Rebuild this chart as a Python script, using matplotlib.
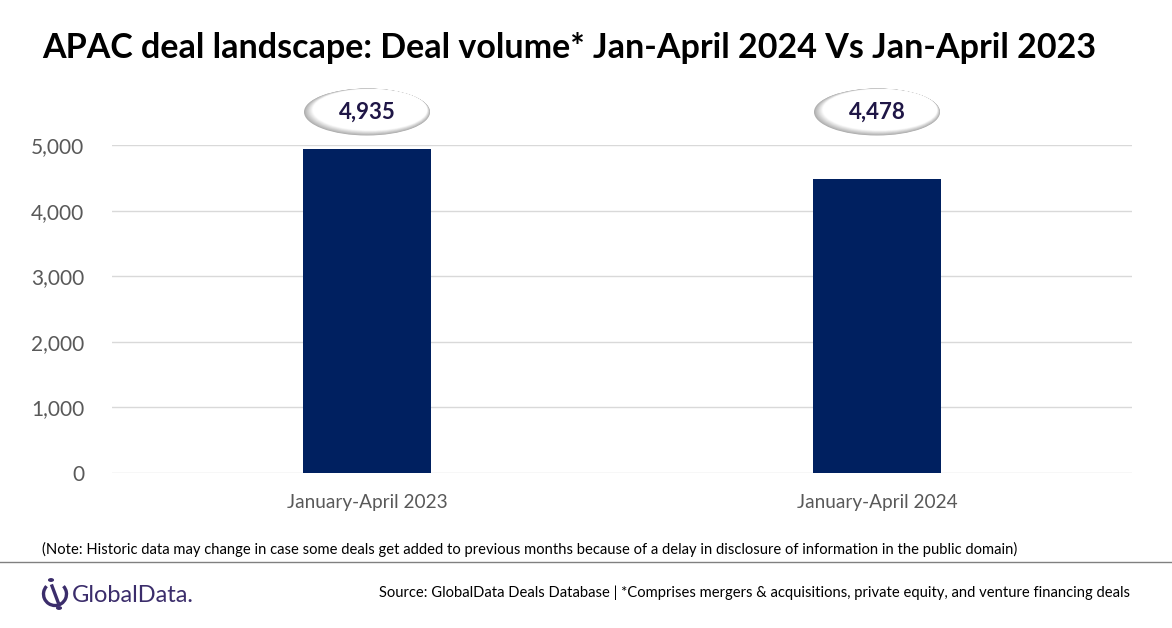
import numpy as np
from matplotlib import pyplot as plt
from matplotlib.patches import Ellipse, Circle, Arc
from matplotlib.ticker import FuncFormatter

categories = ["January-April 2023", "January-April 2024"]
deal_volume = [4935, 4478]
yticks = [0, 1000, 2000, 3000, 4000, 5000]

title = "APAC deal landscape: Deal volume* Jan-April 2024 Vs Jan-April 2023"
note = ("(Note: Historic data may change in case some deals get added to previous months "
        "because of a delay in disclosure of information in the public domain)")
source = ("Source: GlobalData Deals Database | *Comprises mergers & acquisitions, "
          "private equity, and venture financing deals")

W, H = 1172, 628
plt.rcParams['font.family'] = ['Lato', 'DejaVu Sans']

fig = plt.figure(figsize=(W / 100, H / 100), dpi=100)
ax = fig.add_axes([112 / W, (H - 473) / H, 1020 / W, 328 / H])

x = np.arange(len(categories))
ax.bar(x, deal_volume, width=0.25, color="#002060", zorder=3)
ax.set_xlim(-0.5, len(categories) - 0.5)
ax.set_ylim(0, 5000)
ax.set_yticks(yticks)
ax.yaxis.set_major_formatter(FuncFormatter(lambda v, p: f"{int(v):,}"))
ax.set_xticks(x)
ax.set_xticklabels(categories)
ax.grid(axis="y", color="#D9D9D9", linewidth=1, zorder=0)
for s in ax.spines.values():
    s.set_visible(False)
ax.tick_params(axis="both", length=0, colors="#595959", labelsize=15)
ax.tick_params(axis="y", pad=20)
ax.tick_params(axis="x", pad=15, labelsize=13.7)

# gradient ellipse labels above bars
for xi, v in zip(x, deal_volume):
    cx = ax.transData.transform((xi, 0))[0]
    cy = 112
    steps = 16
    for k in range(steps):
        t = k / (steps - 1)
        shade = 0.68 + 0.32 * min(1, t * 1.4)
        w = 126 - 16 * t
        h = 47 - 8 * t
        e = Ellipse((cx / W + 4 * t / W, 1 - (cy - 3 * t) / H), w / W, h / H,
                    transform=fig.transFigure, facecolor=(shade, shade, shade),
                    edgecolor="none", zorder=5)
        fig.add_artist(e)
    fig.text(cx / W, 1 - cy / H, f"{v:,}", ha="center", va="center",
             fontsize=16, fontweight="bold", color="#1F1646", zorder=6)

fig.text(42 / W, 1 - 48 / H, title, ha="left", va="center",
         fontsize=24.5, fontweight="bold", color="#000000")

fig.text(42 / W, 1 - 549 / H, note, ha="left", va="center",
         fontsize=10.6, color="#000000")
fig.add_artist(plt.Line2D([0, 1], [1 - 562 / H, 1 - 562 / H],
                          transform=fig.transFigure, color="#808080", linewidth=1))
fig.text(1130 / W, 1 - 593 / H, source, ha="right", va="center",
         fontsize=10.6, color="#000000")

# GlobalData logo
logo_c = "#3B2D6B"
lx, ly = 55, 594
fig.add_artist(Arc((lx / W, 1 - ly / H), 23 / W, 23 / H, theta1=120, theta2=60,
                   transform=fig.transFigure, color=logo_c, linewidth=2.4))
fig.add_artist(plt.Line2D([(lx - 3) / W, (lx + 3) / W], [1 - (ly - 8) / H, 1 - (ly + 8) / H],
                          transform=fig.transFigure, color=logo_c, linewidth=2.4))
fig.add_artist(Circle(((lx - 4) / W, 1 - (ly - 14) / H), 2.3 / W, transform=fig.transFigure,
                      color=logo_c))
fig.add_artist(Circle(((lx + 4) / W, 1 - (ly + 14) / H), 2.3 / W, transform=fig.transFigure,
                      color=logo_c))
fig.text(72 / W, 1 - 595 / H, "GlobalData.", ha="left", va="center",
         fontsize=17, color=logo_c)

fig.savefig("out.png", dpi=100)
